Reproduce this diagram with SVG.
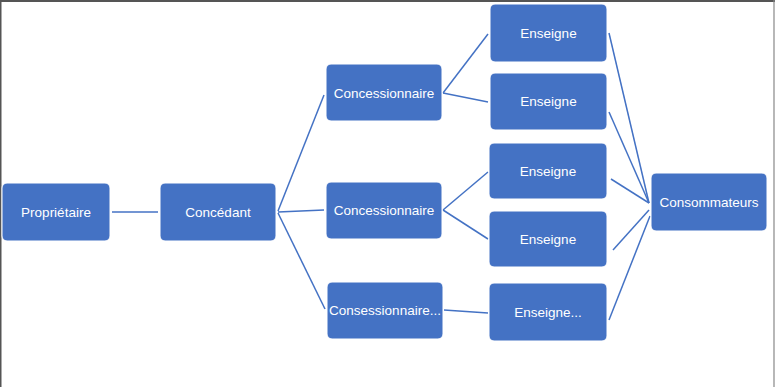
<svg xmlns="http://www.w3.org/2000/svg" width="775" height="387" viewBox="0 0 775 387">
<style>
.n rect{fill:#4472C4;stroke:#ffffff;stroke-width:1}
.n text{fill:#ffffff;font-family:"Liberation Sans",Arial,sans-serif;font-size:13.5px;text-anchor:middle;dominant-baseline:central}
#connectors line{stroke:#4472C4;stroke-width:1.5;fill:none}
</style>
<rect x="0" y="0" width="775" height="387" fill="#ffffff"/>
<line x1="0.75" y1="0" x2="0.75" y2="387" stroke="#555" stroke-width="1.5"/>
<line x1="0" y1="1" x2="775" y2="1" stroke="#555" stroke-width="2"/>
<line x1="774" y1="0" x2="774" y2="387" stroke="#888" stroke-width="1.2"/>
<g id="connectors">
<line x1="112" y1="212" x2="158" y2="212"/>
<line x1="278" y1="211" x2="324" y2="95"/>
<line x1="278" y1="212" x2="324" y2="210"/>
<line x1="278" y1="213" x2="325" y2="309"/>
<line x1="443" y1="93" x2="488" y2="34"/>
<line x1="443" y1="93" x2="488" y2="102"/>
<line x1="443" y1="210" x2="488" y2="172"/>
<line x1="443" y1="210" x2="488" y2="239"/>
<line x1="444" y1="310" x2="488" y2="313"/>
<line x1="609" y1="33" x2="649" y2="203"/>
<line x1="609" y1="112" x2="649" y2="203"/>
<line x1="611" y1="179" x2="649" y2="203"/>
<line x1="613" y1="250" x2="649" y2="210"/>
<line x1="609" y1="320" x2="650" y2="216"/>
</g>
<g id="proprietaire" class="n"><rect x="2" y="183" width="108" height="58" rx="5"/><text x="56" y="212">Propriétaire</text></g>
<g id="concedant" class="n"><rect x="160" y="183" width="116" height="58" rx="5"/><text x="218" y="212">Concédant</text></g>
<g id="concessionnaire1" class="n"><rect x="326" y="64" width="116" height="57" rx="5"/><text x="384" y="93">Concessionnaire</text></g>
<g id="concessionnaire2" class="n"><rect x="326" y="182" width="116" height="57" rx="5"/><text x="384" y="210">Concessionnaire</text></g>
<g id="concessionnaire3" class="n"><rect x="327" y="282" width="116" height="57" rx="5"/><text x="385" y="310">Consessionnaire...</text></g>
<g id="enseigne1" class="n"><rect x="490" y="4" width="117" height="58" rx="5"/><text x="548.5" y="33">Enseigne</text></g>
<g id="enseigne2" class="n"><rect x="490" y="73" width="117" height="57" rx="5"/><text x="548.5" y="101">Enseigne</text></g>
<g id="enseigne3" class="n"><rect x="489" y="143" width="118" height="56" rx="5"/><text x="548" y="171">Enseigne</text></g>
<g id="enseigne4" class="n"><rect x="489" y="211" width="118" height="56" rx="5"/><text x="548" y="239">Enseigne</text></g>
<g id="enseigne5" class="n"><rect x="489" y="283" width="118" height="58" rx="5"/><text x="548" y="312">Enseigne...</text></g>
<g id="consommateurs" class="n"><rect x="651" y="173" width="116" height="58" rx="5"/><text x="709" y="202">Consommateurs</text></g>
</svg>
